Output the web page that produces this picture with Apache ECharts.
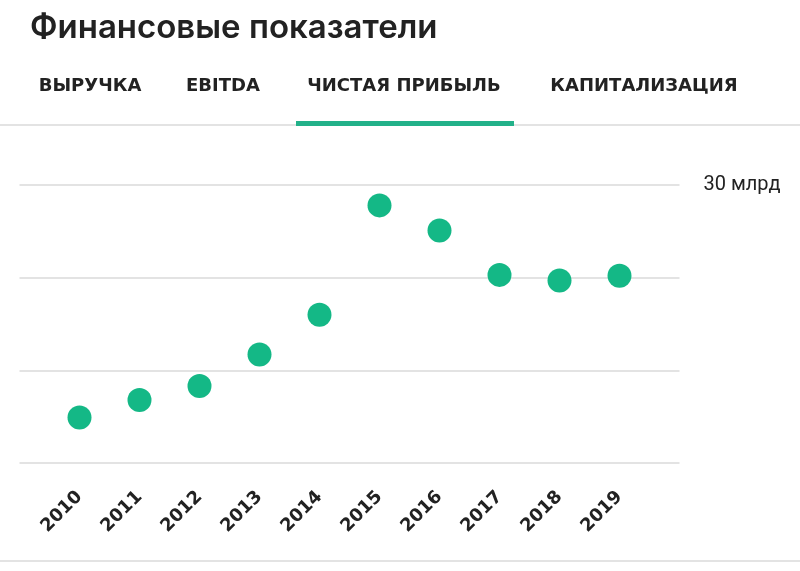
<!DOCTYPE html>
<html>
<head>
<meta charset="utf-8">
<script src="https://cdn.jsdelivr.net/npm/echarts@6/dist/echarts.min.js"></script>
<style>
html,body{margin:0;padding:0;background:#fff;}
#c{width:800px;height:571px;}
</style>
</head>
<body>
<div id="c"></div>
<script>
var title = 'Финансовые показатели';
var tabs = ['ВЫРУЧКА', 'EBITDA', 'ЧИСТАЯ ПРИБЫЛЬ', 'КАПИТАЛИЗАЦИЯ'];
var tabCenters = [90, 223, 404, 644];
var years = [2010, 2011, 2012, 2013, 2014, 2015, 2016, 2017, 2018, 2019];
var netProfit = [4.9, 6.8, 8.3, 11.7, 16.0, 27.8, 25.1, 20.3, 19.7, 20.2];
var yUnit = 'млрд';

var chart = echarts.init(document.getElementById('c'));
var green = '#14b886';
var textColor = '#222';

var graphics = [
  {type:'text', left:30, top:12, style:{text:title, fill:textColor, font:'600 33px Inter, Roboto, sans-serif'}},
  {type:'rect', shape:{x:0, y:124, width:800, height:2}, style:{fill:'#e3e3e3'}},
  {type:'rect', shape:{x:296, y:121, width:218, height:5}, style:{fill:'#22b189'}},
  {type:'rect', shape:{x:0, y:560, width:800, height:2}, style:{fill:'#e3e3e3'}}
];
tabs.forEach(function(t, i){
  graphics.push({type:'text', x:tabCenters[i], y:86, style:{text:t, fill:textColor, align:'center', verticalAlign:'middle', font:'bold 18px "DejaVu Sans", sans-serif'}});
});

chart.setOption({
  animation:false,
  backgroundColor:'#fff',
  graphic: graphics,
  grid:{left:19.5, right:120.5, top:185, bottom:108},
  xAxis:{
    type:'value', min:2009, max:2020, interval:1,
    axisLine:{show:false}, axisTick:{show:false}, splitLine:{show:false},
    axisLabel:{
      rotate:45, margin:31, color:textColor, fontSize:18, fontWeight:'bold',
      fontFamily:'"DejaVu Sans", sans-serif',
      formatter:function(v){ return (v >= years[0] && v <= years[years.length-1]) ? String(v) : ''; }
    }
  },
  yAxis:{
    type:'value', position:'right', min:0, max:30, interval:10,
    axisLine:{show:false}, axisTick:{show:false},
    splitLine:{lineStyle:{color:'#e3e3e3', width:2}},
    axisLabel:{
      margin:24, color:textColor, fontSize:20, fontFamily:'Roboto, sans-serif',
      padding:[3,0,0,0],
      formatter:function(v){ return v === 30 ? v + ' ' + yUnit : ''; }
    }
  },
  series:[{
    type:'scatter',
    symbol:'circle',
    symbolSize:24,
    itemStyle:{color:green, opacity:1},
    data: years.map(function(y, i){ return [y, netProfit[i]]; })
  }]
});
</script>
</body>
</html>
